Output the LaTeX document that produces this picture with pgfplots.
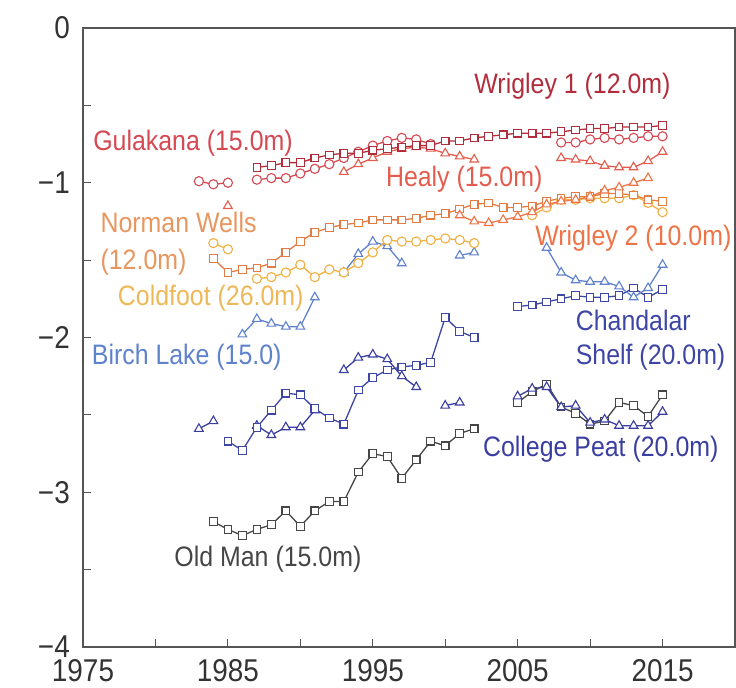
\documentclass[border=0pt]{standalone}
\usepackage{pgfplots}
\pgfplotsset{compat=1.18}
\usepackage{fontspec}
\setmainfont{Liberation Sans}
\usepackage{graphicx}

\definecolor{wrigA}{RGB}{178,45,60}
\definecolor{gula}{RGB}{214,72,82}
\definecolor{healy}{RGB}{228,92,78}
\definecolor{norman}{RGB}{226,124,68}
\definecolor{normanlbl}{RGB}{232,150,95}
\definecolor{wrigB}{RGB}{238,116,72}
\definecolor{cold}{RGB}{240,176,66}
\definecolor{coldlbl}{RGB}{238,184,88}
\definecolor{birch}{RGB}{95,130,205}
\definecolor{chand}{RGB}{62,70,165}
\definecolor{college}{RGB}{58,62,160}
\definecolor{oldman}{RGB}{70,70,70}
\definecolor{axisgray}{RGB}{85,85,85}

% text looks a bit stretched vertically in the original
\newcommand\tall[1]{\scalebox{1}[1.13]{#1}}
\tikzset{lbl/.style={anchor=west, inner sep=0pt, font=\fontsize{25}{27}\selectfont}}

\begin{document}
\begin{tikzpicture}
\begin{axis}[
    name=main,
    scale only axis,
    width=652bp, height=619bp,
    xmin=1975, xmax=2020,
    ymin=-4, ymax=0,
    xtick={1975,1980,...,2015},
    xticklabels={\tall{1975},,\tall{1985},,\tall{1995},,\tall{2005},,\tall{2015}},
    ytick={-4,-3.5,...,0},
    yticklabels={\tall{−4},,\tall{−3},,\tall{−2},,\tall{−1},,\tall{0}},
    tick pos=left,
    tick align=inside,
    major tick length=8bp,
    tick style={axisgray, line width=1.2bp},
    axis line style={axisgray, line width=1.5bp},
    ticklabel style={font=\fontsize{28}{30}\selectfont, text=black!80, inner sep=0pt},
    xticklabel style={anchor=north, yshift=-12bp},
    yticklabel style={anchor=east, xshift=-13bp},
    unbounded coords=jump,
    every axis plot/.append style={line width=1.3bp,
        mark options={solid, fill=white, line width=1.1bp}},
]

% Old Man (15.0m)
\addplot[oldman, mark=square*, mark size=3.8bp] coordinates {
(1984,-3.19)(1985,-3.24)(1986,-3.28)(1987,-3.24)(1988,-3.21)(1989,-3.12)(1990,-3.22)
(1991,-3.12)(1992,-3.06)(1993,-3.06)(1994,-2.87)(1995,-2.75)(1996,-2.77)(1997,-2.91)
(1998,-2.79)(1999,-2.67)(2000,-2.70)(2001,-2.62)(2002,-2.59)(2003,nan)
(2005,-2.42)(2006,-2.35)(2007,-2.30)(2008,-2.45)(2009,-2.49)(2010,-2.56)(2011,-2.54)
(2012,-2.42)(2013,-2.44)(2014,-2.51)(2015,-2.37)};

% College Peat (20.0m)
\addplot[college, mark=triangle*, mark size=5bp] coordinates {
(1983,-2.59)(1984,-2.54)(1985,nan)
(1987,-2.57)(1988,-2.63)(1989,-2.58)(1990,-2.58)(1991,-2.47)(1992,nan)
(1993,-2.21)(1994,-2.13)(1995,-2.11)(1996,-2.14)(1997,-2.25)(1998,-2.32)(1999,nan)
(2000,-2.44)(2001,-2.42)(2002,nan)
(2005,-2.38)(2006,-2.33)(2007,-2.32)(2008,-2.45)(2009,-2.44)(2010,-2.55)(2011,-2.53)
(2012,-2.57)(2013,-2.57)(2014,-2.57)(2015,-2.48)};

% Chandalar Shelf (20.0m)
\addplot[chand, mark=square*, mark size=3.8bp] coordinates {
(1985,-2.67)(1986,-2.73)(1987,-2.58)(1988,-2.47)(1989,-2.36)(1990,-2.37)(1991,-2.46)
(1992,-2.52)(1993,-2.56)(1994,-2.34)(1995,-2.26)(1996,-2.21)(1997,-2.19)(1998,-2.18)
(1999,-2.16)(2000,-1.87)(2001,-1.96)(2002,-2.00)(2003,nan)
(2005,-1.80)(2006,-1.79)(2007,-1.77)(2008,-1.75)(2009,-1.73)(2010,-1.74)(2011,-1.74)
(2012,-1.73)(2013,-1.68)(2014,-1.74)(2015,-1.69)};

% Birch Lake (15.0)
\addplot[birch, mark=triangle*, mark size=5bp] coordinates {
(1986,-1.98)(1987,-1.88)(1988,-1.91)(1989,-1.93)(1990,-1.93)(1991,-1.74)(1992,nan)
(1993,-1.58)(1994,-1.46)(1995,-1.38)(1996,-1.41)(1997,-1.52)(1998,nan)
(2001,-1.47)(2002,-1.45)(2003,nan)
(2007,-1.42)(2008,-1.58)(2009,-1.63)(2010,-1.64)(2011,-1.64)(2012,-1.67)(2013,-1.74)
(2014,-1.68)(2015,-1.53)};

% Coldfoot (26.0m)
\addplot[cold, mark=*, mark size=4.6bp] coordinates {
(1984,-1.39)(1985,-1.43)(1986,nan)
(1987,-1.62)(1988,-1.61)(1989,-1.58)(1990,-1.53)(1991,-1.61)(1992,-1.56)(1993,-1.58)
(1994,-1.52)(1995,-1.45)(1996,-1.37)(1997,-1.38)(1998,-1.38)(1999,-1.37)(2000,-1.36)
(2001,-1.37)(2002,-1.39)(2003,nan)
(2006,-1.21)(2007,-1.16)(2008,-1.11)(2009,-1.11)(2010,-1.10)(2011,-1.10)(2012,-1.10)
(2013,-1.08)(2014,-1.13)(2015,-1.19)};

% Norman Wells (12.0m)
\addplot[norman, mark=square*, mark size=3.8bp] coordinates {
(1984,-1.49)(1985,-1.58)(1986,-1.56)(1987,-1.55)(1988,-1.52)(1989,-1.45)(1990,-1.38)
(1991,-1.32)(1992,-1.29)(1993,-1.27)(1994,-1.26)(1995,-1.24)(1996,-1.24)(1997,-1.24)
(1998,-1.23)(1999,-1.21)(2000,-1.20)(2001,-1.17)(2002,-1.14)(2003,-1.13)(2004,-1.16)
(2005,-1.16)(2006,-1.15)(2007,-1.12)(2008,-1.10)(2009,-1.09)(2010,-1.09)(2011,-1.07)
(2012,-1.07)(2013,-1.08)(2014,-1.11)(2015,-1.12)};

% Wrigley 2 (10.0m)
\addplot[wrigB, mark=triangle*, mark size=5bp] coordinates {
(2001,-1.21)(2002,-1.25)(2003,-1.26)(2004,-1.24)(2005,-1.22)(2006,-1.19)(2007,-1.14)
(2008,-1.12)(2009,-1.11)(2010,-1.09)(2011,-1.05)(2012,-1.03)(2013,-1.00)(2014,-0.97)};

% Healy (15.0m)
\addplot[healy, mark=triangle*, mark size=5bp] coordinates {
(1985,-1.15)(1986,nan)
(1993,-0.93)(1994,-0.88)(1995,-0.84)(1996,-0.80)(1997,-0.78)(1998,-0.77)(1999,-0.78)
(2000,-0.81)(2001,-0.83)(2002,-0.85)(2003,nan)
(2008,-0.84)(2009,-0.85)(2010,-0.86)(2011,-0.89)(2012,-0.90)(2013,-0.90)(2014,-0.86)
(2015,-0.80)};

% Gulakana (15.0m)
\addplot[gula, mark=*, mark size=4.6bp] coordinates {
(1983,-0.99)(1984,-1.01)(1985,-1.00)(1986,nan)
(1987,-0.98)(1988,-0.97)(1989,-0.97)(1990,-0.94)(1991,-0.91)(1992,-0.88)(1993,-0.84)
(1994,-0.80)(1995,-0.76)(1996,-0.73)(1997,-0.71)(1998,-0.72)(1999,-0.75)(2000,nan)
(2008,-0.74)(2009,-0.74)(2010,-0.72)(2011,-0.71)(2012,-0.72)(2013,-0.71)(2014,-0.70)
(2015,-0.70)};

% Wrigley 1 (12.0m)
\addplot[wrigA, mark=square*, mark size=3.8bp] coordinates {
(1987,-0.90)(1988,-0.89)(1989,-0.87)(1990,-0.87)(1991,-0.84)(1992,-0.82)(1993,-0.81)
(1994,-0.81)(1995,-0.79)(1996,-0.78)(1997,-0.77)(1998,-0.76)(1999,-0.76)(2000,-0.73)
(2001,-0.73)(2002,-0.71)(2003,-0.70)(2004,-0.69)(2005,-0.68)(2006,-0.68)(2007,-0.68)
(2008,-0.67)(2009,-0.66)(2010,-0.65)(2011,-0.65)(2012,-0.64)(2013,-0.64)(2014,-0.64)
(2015,-0.63)};

% site labels
\node[lbl, text=wrigA]     at (axis cs:2002.0,-0.375) {\tall{Wrigley 1 (12.0m)}};
\node[lbl, text=gula]      at (axis cs:1975.7,-0.743) {\tall{Gulakana (15.0m)}};
\node[lbl, text=healy]     at (axis cs:1995.9,-0.976) {\tall{Healy (15.0m)}};
\node[lbl, text=normanlbl] at (axis cs:1976.2,-1.254) {\tall{Norman Wells}};
\node[lbl, text=normanlbl] at (axis cs:1976.2,-1.512) {\tall{(12.0m)}};
\node[lbl, text=coldlbl]   at (axis cs:1977.4,-1.745) {\tall{Coldfoot (26.0m)}};
\node[lbl, text=wrigB]     at (axis cs:2006.2,-1.357) {\tall{Wrigley 2 (10.0m)}};
\node[lbl, text=birch]     at (axis cs:1975.6,-2.126) {\tall{Birch Lake (15.0)}};
\node[lbl, text=chand]     at (axis cs:2009.0,-1.893) {\tall{Chandalar}};
\node[lbl, text=chand]     at (axis cs:2009.0,-2.126) {\tall{Shelf (20.0m)}};
\node[lbl, text=college]   at (axis cs:2002.6,-2.720) {\tall{College Peat (20.0m)}};
\node[lbl, text=oldman]    at (axis cs:1981.3,-3.431) {\tall{Old Man (15.0m)}};

\end{axis}
\pgfresetboundingbox
\path[use as bounding box] (main.south west) ++(-83bp,-41bp)
    rectangle ([shift={(1bp,28bp)}]main.north east);
\end{tikzpicture}
\end{document}
